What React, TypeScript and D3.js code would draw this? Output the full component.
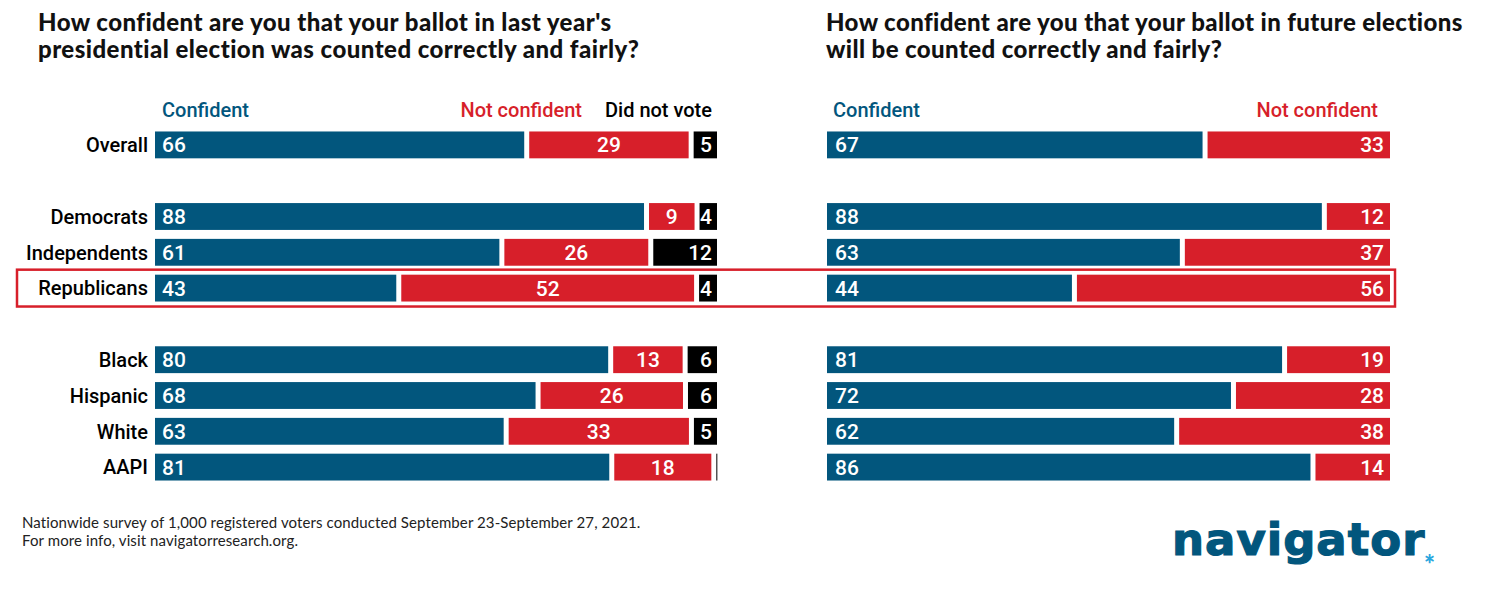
import React from "react";
import * as d3 from "d3";

const groups = ["Overall", "", "Democrats", "Independents", "Republicans", " ", "Black", "Hispanic", "White", "AAPI"];
const categories = ["Overall", "Democrats", "Independents", "Republicans", "Black", "Hispanic", "White", "AAPI"];
const pastConfident = [66, 88, 61, 43, 80, 68, 63, 81];
const pastNotConfident = [29, 9, 26, 52, 13, 26, 33, 18];
const pastDidNotVote = [5, 4, 12, 4, 6, 6, 5, 1];
const futureConfident = [67, 88, 63, 44, 81, 72, 62, 86];
const futureNotConfident = [33, 12, 37, 56, 19, 28, 38, 14];

const leftTitle = ["How confident are you that your ballot in last year's", "presidential election was counted correctly and fairly?"];
const rightTitle = ["How confident are you that your ballot in future elections", "will be counted correctly and fairly?"];
const footnote = [
  "Nationwide survey of 1,000 registered voters conducted September 23-September 27, 2021.",
  "For more info, visit navigatorresearch.org.",
];

const BLUE = "#02567d";
const RED = "#d71f2a";
const BLACK = "#000000";
const COND = "Roboto, 'Liberation Sans', sans-serif";
const TITLE = "Lato, 'Open Sans', sans-serif";

export default function App() {
  const W = 1494, H = 596, GAP = 5;
  const y = d3.scaleBand<string>().domain(groups).range([127, 485]).paddingInner(0.25).paddingOuter(0.125);
  const bh = y.bandwidth();

  const pastRows = categories.map((c, i) => ({ cat: c, conf: pastConfident[i], not: pastNotConfident[i], dnv: pastDidNotVote[i] }));
  const futRows = categories.map((c, i) => ({ cat: c, conf: futureConfident[i], not: futureNotConfident[i] }));
  const pastStack = d3.stack<any>().keys(["conf", "not", "dnv"]).offset(d3.stackOffsetExpand)(pastRows);
  const futStack = d3.stack<any>().keys(["conf", "not"]).offset(d3.stackOffsetExpand)(futRows);
  const xL = d3.scaleLinear().domain([0, 1]).range([155, 722]);
  const xR = d3.scaleLinear().domain([0, 1]).range([827, 1395]);
  const colors = [BLUE, RED, BLACK];

  const labelFs = 20;
  const valFs = 21;
  const rep = y("Republicans")!;

  return (
    <svg width={W} height={H} style={{ display: "block", position: "absolute", left: 0, top: 0, background: "#fff" }}>
      <rect x={0} y={0} width={W} height={H} fill="#fff" />
      {leftTitle.map((t, i) => (
        <text key={"lt" + i} x={38} y={31 + i * 27} fontFamily={TITLE} fontWeight={900} fontSize={24} letterSpacing={0.45} fill="#111">{t}</text>
      ))}
      {rightTitle.map((t, i) => (
        <text key={"rt" + i} x={826} y={31 + i * 27} fontFamily={TITLE} fontWeight={900} fontSize={24} letterSpacing={0.4} fill="#111">{t}</text>
      ))}

      {/* legends */}
      <g fontFamily={COND} fontSize={20} fontWeight={500}>
        <text x={162} y={117} fill={BLUE}>Confident</text>
        <text x={582} y={117} fill={RED} textAnchor="end">Not confident</text>
        <text x={712} y={117} fill={BLACK} textAnchor="end">Did not vote</text>
        <text x={833} y={117} fill={BLUE}>Confident</text>
        <text x={1378} y={117} fill={RED} textAnchor="end">Not confident</text>
      </g>

      {/* highlight box */}
      <rect x={17} y={rep - 5} width={1378} height={bh + 10} fill="none" stroke={RED} strokeWidth={2.5} />

      {/* category labels */}
      {categories.map((c) => (
        <text key={"c" + c} x={148} y={y(c)! + bh / 2} dy="0.36em" textAnchor="end" fontFamily={COND} fontWeight={500} fontSize={labelFs} fill="#000">{c}</text>
      ))}

      {/* left bars */}
      {pastStack.map((s, si) => (
        <g key={"ps" + si}>
          {s.map((d, i) => {
            const x0 = xL(d[0]);
            const w = Math.max(xL(d[1]) - x0 - GAP, 1);
            const v = (pastRows[i] as any)[s.key];
            const cy = y(categories[i])! + bh / 2;
            const common = { y: cy, dy: "0.36em", fill: "#fff", fontFamily: COND, fontWeight: 500, fontSize: valFs };
            let label = null;
            if (v >= 2) {
              if (si === 0) label = <text x={x0 + 7} {...common}>{v}</text>;
              else if (si === 1) label = <text x={x0 + w / 2} textAnchor="middle" {...common}>{v}</text>;
              else label = <text x={x0 + w - 5} textAnchor="end" {...common}>{v}</text>;
            }
            return (
              <g key={i}>
                <rect x={x0} y={y(categories[i])!} width={w} height={bh} fill={colors[si]} />
                {label}
              </g>
            );
          })}
        </g>
      ))}

      {/* right bars */}
      {futStack.map((s, si) => (
        <g key={"fs" + si}>
          {s.map((d, i) => {
            const x0 = xR(d[0]);
            const w = Math.max(xR(d[1]) - x0 - GAP, 1);
            const v = (futRows[i] as any)[s.key];
            const cy = y(categories[i])! + bh / 2;
            const common = { y: cy, dy: "0.36em", fill: "#fff", fontFamily: COND, fontWeight: 500, fontSize: valFs };
            return (
              <g key={i}>
                <rect x={x0} y={y(categories[i])!} width={w} height={bh} fill={colors[si]} />
                {si === 0 ? (
                  <text x={x0 + 8} {...common}>{v}</text>
                ) : (
                  <text x={x0 + w - 6} textAnchor="end" {...common}>{v}</text>
                )}
              </g>
            );
          })}
        </g>
      ))}

      {/* footnote */}
      {footnote.map((t, i) => (
        <text key={"f" + i} x={22} y={528 + i * 18} fontFamily={TITLE} fontSize={15} letterSpacing={0.1} fill="#222">{t}</text>
      ))}

      {/* logo */}
      <text x={1172} y={555} fontFamily="'DejaVu Sans', sans-serif" fontWeight={700} fontSize={45} fill={BLUE} stroke={BLUE} strokeWidth={1.2} letterSpacing={1}>navigator</text>
      <text x={1424} y={574} fontFamily={TITLE} fontWeight={900} fontSize={26} fill="#2aa6de">*</text>
    </svg>
  );
}
